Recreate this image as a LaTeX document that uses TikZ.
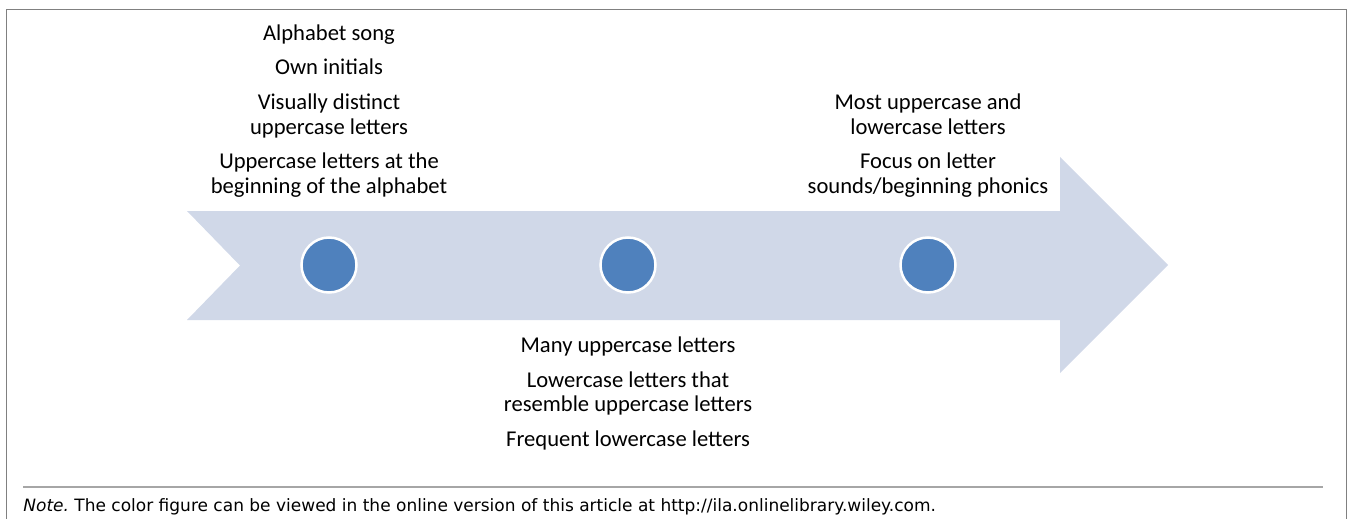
\documentclass[tikz,border=0pt]{standalone}
\usepackage{fontspec}
\setmainfont{Carlito}
\newfontfamily\notefont{DejaVu Sans}
\usepackage{tikz}
\usetikzlibrary{backgrounds,calc}
\definecolor{arrowfill}{HTML}{D0D8E8}
\definecolor{dotfill}{HTML}{4F81BD}

\begin{document}
\begin{tikzpicture}[x=0.5pt,y=-0.5pt,
  stage/.style={circle,fill=dotfill,draw=white,line width=1.25pt,minimum size=27.5pt,inner sep=0pt},
  letters/.style={align=center,inner sep=0pt,font=\fontsize{11.3}{12.25}\selectfont}]
\useasboundingbox (0,0) rectangle (1350,519);
% frame and note
\draw[gray,line width=0.75pt] (6.5,525) -- (6.5,9.5) -- (1346.5,9.5) -- (1346.5,525);
\draw[gray!70,line width=1pt] (23,487) -- (1323,487);
\node[anchor=base west,inner sep=0pt,font=\notefont\fontsize{8.5}{10}\selectfont] (note) at (23,511)
  {\textit{Note.}\ The color figure can be viewed in the online version of this article at http://ila.onlinelibrary.wiley.com.};
% the big arrow
\fill[arrowfill] (187,211) -- (1060,211) -- (1060,157) -- (1168,265) -- (1060,373)
  -- (1060,320) -- (187,320) -- (240,265.5) -- cycle;
\node[stage] (s1) at (329,265) {};
\node[stage] (s2) at (628,265) {};
\node[stage] (s3) at (928,265) {};
\node[letters,anchor=base] (early) at (329,193) {
Alphabet song\\[5pt]
Own initials\\[5pt]
Visually distinct\\
uppercase letters\\[5pt]
Uppercase letters at the\\
beginning of the alphabet};
\node[letters,anchor=base] (middle) at (628,446) {
Many uppercase letters\\[5pt]
Lowercase letters that\\
resemble uppercase letters\\[5pt]
Frequent lowercase letters};
\node[letters,anchor=base] (late) at (928,193) {
Most uppercase and\\
lowercase letters\\[5pt]
Focus on letter\\
sounds/beginning phonics};
\end{tikzpicture}
\end{document}
